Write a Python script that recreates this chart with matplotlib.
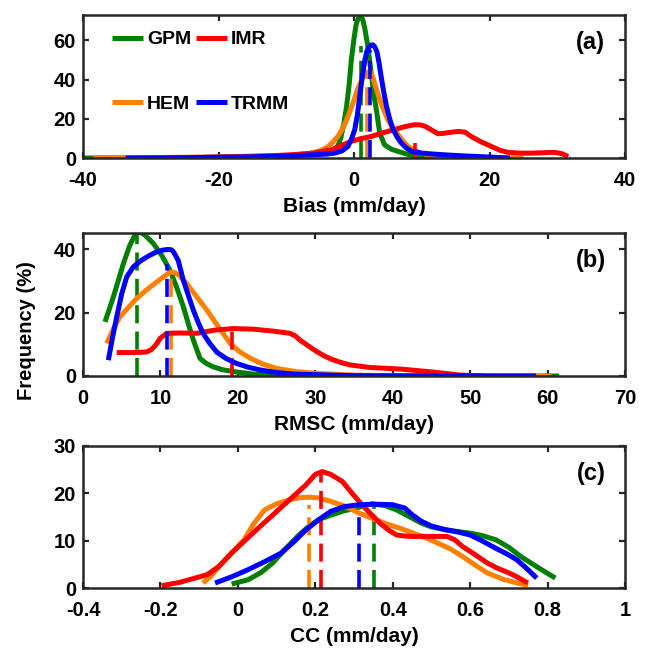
import matplotlib
matplotlib.use("Agg")
import matplotlib.pyplot as plt
from matplotlib.ticker import FixedLocator

plt.rcParams["font.family"] = ["Liberation Sans", "DejaVu Sans"]
plt.rcParams["font.weight"] = "bold"

COLORS = {"GPM": "#008000", "IMR": "#ff0000", "HEM": "#ff8000", "TRMM": "#0000ff"}
DRAW_ORDER = ["GPM", "HEM", "IMR", "TRMM"]

# ---- (a) Bias ----
bias_x = {
    "GPM": [-40.5, -30, -20, -12, -8, -5, -3.5, -2.8, -2.3, -1.9, -1.5, -1.1, -0.7, -0.4,
            0.0, 0.3, 0.7, 1.0, 1.3, 1.6, 2.0, 2.3, 2.9, 3.3, 3.8, 4.5, 5.5, 6.5, 8, 9,
            10.5, 12.4, 15, 20],
    "HEM": [-38.5, -30, -20, -15, -10, -8.3, -6.5, -5.3, -4.5, -3.8, -3.1, -2.4, -1.6, -0.9,
            -0.1, 0.6, 1.1, 1.5, 1.9, 2.2, 2.5, 2.8, 3.1, 3.5, 4.2, 5.0, 5.7, 6.5, 7.2,
            8.0, 9.0, 9.9, 11.2, 12.9, 16, 20, 25],
    "TRMM": [-33.7, -25, -15, -10, -5.8, -4.0, -2.85, -1.8, -0.9, -0.4, 0.1, 0.5, 0.84,
             1.2, 1.6, 1.9, 2.2, 2.5, 2.8, 3.1, 3.4, 3.7, 4.0, 4.4, 4.8, 5.3, 5.8, 6.4,
             7.0, 7.7, 8.5, 10, 11.4, 14, 16.8, 20, 23],
    "IMR": [-22, -15, -10, -6, -3.35, -2.0, -0.4, 1.0, 2.55, 4.0, 5.5, 7.5, 8.3, 9.0, 9.8,
            10.5, 11.5, 12.4, 13.2, 14.0, 15.4, 16.4, 17.3, 18.8, 20.3, 21.5, 22.7, 24.5,
            26.2, 28.0, 29.6, 30.7, 31.6],
}
bias_y = {
    "GPM": [0, 0.1, 0.3, 0.8, 1.5, 2.2, 3.3, 4.2, 6.8, 11, 17.5, 26.3, 38, 50,
            61, 68, 72, 72.5, 70.5, 66, 58, 50, 33, 24.6, 12.7, 6.8, 4.5, 3.4, 1.8, 1.0,
            0.6, 0.3, 0.1, 0],
    "HEM": [0, 0.2, 0.6, 1.0, 1.4, 1.7, 2.4, 3.4, 4.5, 5.9, 8.2, 11, 15.5, 21.2,
            28.5, 35.7, 39.5, 42, 43.6, 44.2, 43.5, 41, 37.5, 33, 26, 19.5, 15.3, 11.9, 8.8,
            5.9, 3.8, 2.5, 1.5, 0.8, 0.3, 0.1, 0],
    "TRMM": [0, 0.2, 0.6, 1.0, 1.7, 2.0, 2.5, 3.6, 5.9, 9.5, 14.4, 22, 31.4,
             41, 50, 54.5, 56.5, 57.6, 57.8, 56.5, 54, 48.5, 41.6, 33.5, 26.3, 19.5, 14.4,
             10.5, 7.6, 5.2, 3.4, 2.5, 2.1, 1.5, 1.0, 0.5, 0],
    "IMR": [0.3, 0.8, 1.5, 2.5, 4.2, 6.2, 8.5, 9.9, 11, 12.6, 14.1, 16, 16.6, 17, 16.9,
            16.2, 14.2, 12.4, 12.6, 13.0, 13.6, 13.2, 11, 8.2, 5.9, 4.0, 2.9, 2.5,
            2.5, 2.7, 2.9, 2.2, 0.8],
}
bias_mean = {"GPM": 1.0, "HEM": 1.9, "TRMM": 2.3, "IMR": 9.0}
bias_mean_top = {"GPM": 57, "HEM": 43, "TRMM": 55, "IMR": 7.5}

# ---- (b) RMSC ----
rmsc_x = {
    "GPM": [2.84, 3.92, 4.6, 5.21, 6.0, 6.5, 7.02, 7.5, 8.0, 9.08, 10.2, 11.24, 12.1, 12.96,
            13.6, 14.25, 15.1, 15.9, 16.8, 18.0, 19.4, 22, 25, 30, 40, 50, 61.5],
    "HEM": [3.06, 3.9, 4.78, 5.9, 6.93, 8.2, 9.52, 10.5, 11.0, 11.45, 11.9, 12.4, 13.4,
            14.7, 16.0, 17.5, 19.0, 20.2, 21.6, 23.2, 25.0, 27.5, 30.2, 35, 40, 50, 60.5],
    "TRMM": [3.27, 3.8, 4.35, 5.0, 5.64, 6.5, 7.5, 8.5, 9.5, 10.3, 11.0, 11.4, 11.7, 12.3,
             12.95, 13.6, 14.25, 14.9, 15.5, 16.4, 17.3, 18.5, 19.8, 21.3, 22.9, 25, 27.2,
             35, 45, 58.5],
    "IMR": [4.35, 6.5, 8.2, 8.8, 9.4, 10.0, 10.8, 12.5, 14.7, 17, 19.4, 22, 24.5, 26.7,
            27.4, 28.0, 29.1, 30.2, 31.2, 32.2, 33.4, 34.5, 37, 41, 45, 48.7, 52],
}
rmsc_y = {
    "GPM": [17.1, 25.0, 30.5, 35.5, 41, 43.6, 45.5, 45.3, 44.5, 41.9, 38, 33.4, 28, 21.9,
            16.5, 11.4, 5.6, 4.0, 2.9, 2.0, 1.4, 0.6, 0.2, 0.05, 0, 0, 0],
    "HEM": [10.3, 14.8, 18.7, 21.8, 24.5, 27.2, 29.7, 31.5, 32.4, 32.9, 32.6, 31.8, 29.2,
            25, 20.8, 15.5, 10.3, 7.7, 5.6, 3.8, 2.4, 1.4, 0.8, 0.3, 0.1, 0, 0],
    "TRMM": [5.0, 12, 18.7, 26, 31.3, 34.5, 36.5, 38, 39.2, 39.8, 40.0, 39.9, 39.2, 36.5,
             30.3, 25.5, 20.8, 16.8, 13.5, 10.2, 7.5, 5.5, 4.0, 2.8, 1.9, 1.1, 0.6,
             0.1, 0, 0],
    "IMR": [7.4, 7.4, 7.6, 8.3, 9.8, 12, 13.5, 13.6, 13.5, 14.5, 15.0, 14.8, 14.2, 13.5,
            12.7, 11.4, 9.5, 7.7, 6.3, 5.2, 4.2, 3.5, 2.7, 2.2, 1.3, 0.3, 0],
}
rmsc_mean = {"GPM": 7.0, "HEM": 11.3, "TRMM": 10.8, "IMR": 19.3}
rmsc_mean_top = {"GPM": 45, "HEM": 33, "TRMM": 35.5, "IMR": 14.5}

# ---- (c) CC ----
cc_x = {
    "GPM": [-0.016, 0.027, 0.06, 0.09, 0.12, 0.154, 0.18, 0.208, 0.24, 0.27, 0.31, 0.346,
            0.38, 0.41, 0.44, 0.474, 0.5, 0.537, 0.57, 0.6, 0.63, 0.666, 0.7, 0.73, 0.77,
            0.82],
    "HEM": [-0.09, -0.07, -0.048, 0.016, 0.04, 0.069, 0.1, 0.133, 0.16, 0.186, 0.21, 0.24,
            0.28, 0.314, 0.35, 0.389, 0.42, 0.453, 0.485, 0.516, 0.55, 0.58, 0.61, 0.644,
            0.687, 0.72, 0.75],
    "TRMM": [-0.059, -0.015, 0.027, 0.07, 0.112, 0.145, 0.176, 0.21, 0.24, 0.275, 0.314,
             0.36, 0.4, 0.431, 0.45, 0.474, 0.5, 0.537, 0.57, 0.6, 0.63, 0.666, 0.695,
             0.72, 0.745, 0.772],
    "IMR": [-0.197, -0.15, -0.08, -0.05, -0.016, 0.048, 0.11, 0.176, 0.2, 0.218, 0.24,
            0.27, 0.295, 0.325, 0.367, 0.39, 0.41, 0.43, 0.45, 0.5, 0.54, 0.56, 0.58,
            0.61, 0.644, 0.67, 0.70, 0.72, 0.749],
}
cc_y = {
    "GPM": [0.84, 1.76, 3.3, 5.3, 8.0, 10.9, 12.8, 14.4, 15.4, 16.2, 17.0, 17.8,
            17.4, 16.5, 15.2, 13.7, 12.9, 12.3, 11.9, 11.6, 11.1, 10.2, 8.6, 6.7, 4.6,
            2.1],
    "HEM": [1.05, 2.5, 4.6, 10.2, 13.5, 16.5, 17.8, 18.6, 19.1, 19.2, 19.0, 18.3,
            17.2, 15.8, 14.6, 13.4, 12.6, 11.6, 10.6, 9.5, 8.2, 6.7, 5.0, 3.2,
            1.8, 1.1, 0.56],
    "TRMM": [1.05, 2.4, 3.9, 5.6, 7.4, 9.8, 12.3, 14.5, 16.2, 17.2, 17.6,
             17.7, 17.6, 16.9, 15.5, 14.1, 13.1, 12.3, 11.8, 11.2, 10.0, 8.4, 7.2,
             6.0, 4.2, 2.1],
    "IMR": [0.5, 1.2, 2.8, 4.5, 7.4, 12.3, 16.9, 21.8, 24.0, 24.6, 24.0,
            22.5, 20.0, 17.2, 13.7, 12.2, 11.2, 11.0, 10.9, 10.9, 10.9, 10.2, 8.8,
            7.2, 5.3, 4.2, 3.2, 2.4, 1.05],
}
cc_mean = {"GPM": 0.351, "HEM": 0.184, "TRMM": 0.314, "IMR": 0.216}
cc_mean_top = {"GPM": 17.2, "HEM": 17.6, "TRMM": 16.5, "IMR": 24.2}

PANELS = [
    ("(a)", "Bias (mm/day)", bias_x, bias_y, bias_mean, bias_mean_top,
     (-40, 40), [-40, -20, 0, 20, 40], ["-40", "-20", "0", "20", "40"],
     (0, 73), [0, 20, 40, 60], ["0", "20", "40", "60"]),
    ("(b)", "RMSC (mm/day)", rmsc_x, rmsc_y, rmsc_mean, rmsc_mean_top,
     (0, 70), [0, 10, 20, 30, 40, 50, 60, 70], ["0", "10", "20", "30", "40", "50", "60", "70"],
     (0, 45.2), [0, 20, 40], ["0", "20", "40"]),
    ("(c)", "CC (mm/day)", cc_x, cc_y, cc_mean, cc_mean_top,
     (-0.4, 1), [-0.4, -0.2, 0, 0.2, 0.4, 0.6, 0.8, 1], ["-0.4", "-0.2", "0", "0.2", "0.4", "0.6", "0.8", "1"],
     (0, 30), [0, 10, 20, 30], ["0", "10", "20", "30"]),
]

# axes rectangles in figure fractions
RECTS = [
    [0.1285, 0.758, 0.839, 0.219],
    [0.1285, 0.4242, 0.839, 0.219],
    [0.1285, 0.0995, 0.839, 0.2175],
]

fig = plt.figure(figsize=(6.46, 6.53), dpi=100)
spine_col = "#262626"
handles = {}

for rect, panel in zip(RECTS, PANELS):
    (tag, xlab, xs, ys, means, tops, xlim, xt, xtl, ylim, yt, ytl) = panel
    ax = fig.add_axes(rect)
    for name in DRAW_ORDER:
        ln, = ax.plot(xs[name], ys[name], color=COLORS[name], lw=3.6,
                      solid_capstyle="butt", solid_joinstyle="round", label=name)
        handles[name] = ln
        ax.plot([means[name], means[name]], [0, tops[name]], color=COLORS[name],
                lw=2.6, linestyle=(0, (5, 2.3)), dash_capstyle="butt")
    ax.set_xlim(*xlim)
    ax.set_ylim(*ylim)
    ax.xaxis.set_major_locator(FixedLocator(xt))
    ax.set_xticklabels(xtl)
    ax.yaxis.set_major_locator(FixedLocator(yt))
    ax.set_yticklabels(ytl)
    ax.tick_params(axis="both", direction="in", length=4.5, width=1.6, colors=spine_col,
                   labelcolor="black", labelsize=14.5, top=True, right=True)
    ax.tick_params(axis="x", pad=9.5)
    ax.tick_params(axis="y", pad=5)
    for sp in ax.spines.values():
        sp.set_linewidth(1.8)
        sp.set_color(spine_col)
    ax.set_xlabel(xlab, fontsize=15, fontweight="bold")
    ax.xaxis.label.set_va("center")
    ax.xaxis.set_label_coords(0.5, -0.34)
    ax.text(0.937, 0.805, tag, transform=ax.transAxes, ha="center", va="center",
            fontsize=17, fontweight="bold")
    if tag == "(a)":
        leg_ax = ax

order = ["GPM", "HEM", "IMR", "TRMM"]
leg_ax.legend([handles[n] for n in order], order, ncol=2, loc="upper left",
              bbox_to_anchor=(0.0535, 0.89), frameon=False,
              prop={"weight": "bold", "size": 14}, handlelength=1.6, handletextpad=0.2,
              columnspacing=0.26, labelspacing=2.4, borderpad=0, borderaxespad=0)

fig.text(27 / 646, 1 - 331 / 653, "Frequency (%)", rotation=90, ha="center", va="center",
         fontsize=14.5, fontweight="bold")

fig.savefig("out.png", dpi=100)
